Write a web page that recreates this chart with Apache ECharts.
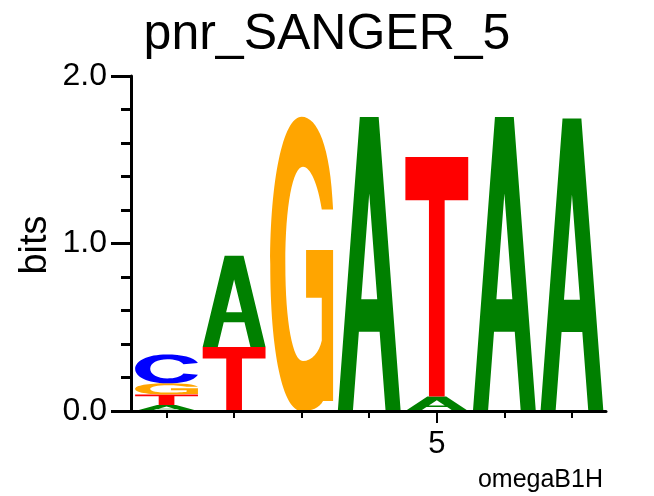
<!DOCTYPE html>
<html>
<head>
<meta charset="utf-8">
<script src="https://cdn.jsdelivr.net/npm/echarts@6/dist/echarts.min.js"></script>
<style>html,body{margin:0;padding:0;background:#fff}#c{width:654px;height:496px}</style>
</head>
<body>
<div id="c"></div>
<script>
// ---- data (bits per letter per position) ----
const positions = [1, 2, 3, 4, 5, 6, 7];
const bitsA = [0.036, 0.545, 0, 1.755, 0.086, 1.755, 1.746];
const bitsC = [0.173, 0, 0, 0, 0, 0, 0];
const bitsG = [0.066, 0, 1.756, 0, 0, 0, 0];
const bitsT = [0.063, 0.382, 0, 0, 1.43, 0, 0];
const letters = ['A', 'C', 'G', 'T'];
const xLabelValues = [5];
const titleText = 'pnr_SANGER_5';
const yAxisName = 'bits';
const footText = 'omegaB1H';

// ---- glyph outlines & colours ----
const GLYPHS = {
  A: 'M0,100 L35,0 L65,0 L100,100 L76,100 L66.5,73 L33.5,73 L24,100 Z M37.3,62 L62.7,62 L50,26 Z',
  C: 'M100,30 C94,9 74,0 50,0 C20,0 0,22 0,50 C0,78 20,100 50,100 C74,100 94,91 100,70 L77,66 C72,78 63,83 51,83 C36,83 24,70 24,50 C24,30 36,17 51,17 C63,17 72,22 77,34 Z',
  G: 'M100,31.5 C96,10 75,0 50,0 C20,0 0,22 0,50 C0,80 20,100 50,100 C66,100 78,99 84,96.6 L100,96.6 L100,45.3 L57,45.3 L57,61.5 L82,61.5 L82,76 C78,80 66,83 52,83 C36,83 24,70 24,50 C24,30 36,17 52,17 C64,17 76,23 82,31.5 Z',
  T: 'M0,0 L100,0 L100,18 L62.5,18 L62.5,100 L37.5,100 L37.5,18 L0,18 Z'
};
const COLORS = { A: '#008000', C: '#0000ff', G: '#ffa500', T: '#ff0000' };
const LETTER_W = 0.93;

const bitsBy = { A: bitsA, C: bitsC, G: bitsG, T: bitsT };
const stackData = [];
positions.forEach((p, i) => {
  const col = letters.map(l => ({ l, h: bitsBy[l][i] })).filter(o => o.h > 0).sort((a, b) => a.h - b.h);
  let y = 0;
  col.forEach(o => {
    stackData.push([p, y, y + o.h, letters.indexOf(o.l)]);
    y += o.h;
  });
});

const FONT = 'Liberation Sans, Arial, Helvetica, sans-serif';
const chart = echarts.init(document.getElementById('c'), null, { renderer: 'canvas' });
chart.setOption({
  animation: false,
  backgroundColor: '#fff',
  grid: { left: 131, right: 48, top: 76, bottom: 85, containLabel: false },
  xAxis: [{
    type: 'value', min: 0.474, max: 7.504, z: 5,
    splitLine: { show: false },
    axisLine: { show: true, onZero: false, lineStyle: { color: '#000', width: 3 } },
    axisTick: { show: true, customValues: positions, length: 7, lineStyle: { color: '#000', width: 2 } },
    axisLabel: { show: true, customValues: xLabelValues, margin: 18, color: '#000', fontSize: 31, fontFamily: FONT }
  }, {
    type: 'value', min: 0.474, max: 7.504, position: 'bottom', z: 5,
    splitLine: { show: false },
    axisLine: { show: false, onZero: false },
    axisTick: { show: true, customValues: xLabelValues, length: 12, lineStyle: { color: '#000', width: 2 } },
    axisLabel: { show: false }
  }],
  yAxis: {
    type: 'value', min: 0, max: 2, interval: 1, z: 5,
    splitLine: { show: false },
    axisLine: { show: true, onZero: false, lineStyle: { color: '#000', width: 3 } },
    axisTick: { show: true, length: 20, lineStyle: { color: '#000', width: 3 } },
    minorTick: { show: true, splitNumber: 5, length: 10, lineStyle: { color: '#000', width: 3 } },
    axisLabel: { margin: 24, color: '#000', fontSize: 32, fontFamily: FONT, formatter: v => v.toFixed(1) }
  },
  graphic: [
    { type: 'text', x: 327, y: 10, style: { text: titleText, font: '50px ' + FONT, fill: '#000', textAlign: 'center', textVerticalAlign: 'top' } },
    { type: 'text', x: 36, y: 245, rotation: Math.PI / 2, style: { text: yAxisName, font: '38px ' + FONT, fill: '#000', textAlign: 'center', textVerticalAlign: 'middle' } },
    { type: 'text', x: 603, y: 468, style: { text: footText, font: '25px ' + FONT, fill: '#000', textAlign: 'right', textVerticalAlign: 'top' } }
  ],
  series: [{
    type: 'custom',
    coordinateSystem: 'cartesian2d',
    data: stackData,
    encode: { x: 0, y: [1, 2] },
    renderItem: function (params, api) {
      const x = api.value(0), y0 = api.value(1), y1 = api.value(2), li = api.value(3);
      const l = letters[li];
      const p0 = api.coord([x - LETTER_W / 2, y1]);
      const p1 = api.coord([x + LETTER_W / 2, y0]);
      return {
        type: 'path',
        shape: { pathData: GLYPHS[l], x: p0[0], y: p0[1], width: p1[0] - p0[0], height: p1[1] - p0[1], layout: 'cover' },
        style: { fill: COLORS[l] }
      };
    }
  }]
});
</script>
</body>
</html>
